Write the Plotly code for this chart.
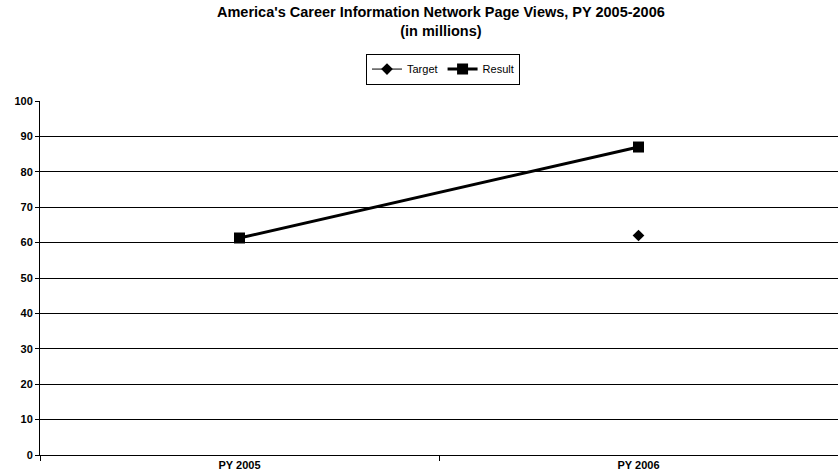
import plotly.graph_objects as go

categories = ["PY 2005", "PY 2006"]
target = [None, 62]
result = [61.3, 87.0]
y_ticks = [0, 10, 20, 30, 40, 50, 60, 70, 80, 90, 100]

fig = go.Figure()
fig.add_trace(go.Scatter(
    x=categories, y=target, name="Target", mode="lines+markers",
    line=dict(color="black", width=1),
    marker=dict(symbol="diamond", size=9, color="black"),
))
fig.add_trace(go.Scatter(
    x=categories, y=result, name="Result", mode="lines+markers",
    line=dict(color="black", width=3),
    marker=dict(symbol="square", size=11, color="black"),
))

fig.add_annotation(
    text="America's Career Information Network Page Views, PY 2005-2006<br>(in millions)",
    xref="paper", yref="paper", x=0.502, y=1.28, xanchor="center", yanchor="top",
    showarrow=False, font=dict(size=14.5, weight="bold"),
)

fig.update_layout(
    width=838, height=475,
    margin=dict(l=40, r=0, t=101, b=20),
    paper_bgcolor="white", plot_bgcolor="white",
    font=dict(family="Liberation Sans, Arial, sans-serif", color="black"),
    showlegend=True,
    legend=dict(
        orientation="h", x=0.505, xanchor="center", y=1.134, yanchor="top",
        bordercolor="black", borderwidth=1, bgcolor="white",
        font=dict(size=11), itemwidth=30, tracegroupgap=0,
    ),
    xaxis=dict(
        type="category", categoryorder="array", categoryarray=categories,
        tickson="boundaries", ticks="outside", ticklen=5, tickcolor="black",
        showgrid=False, showline=True, linecolor="black", linewidth=1,
        tickfont=dict(size=11, weight="bold"), range=[-0.5, 1.5],
    ),
    yaxis=dict(
        range=[0, 100], tickvals=y_ticks, ticks="outside", ticklen=4, tickcolor="black",
        showgrid=True, gridcolor="black", gridwidth=1,
        showline=True, linecolor="black", linewidth=1, zeroline=False,
        tickfont=dict(size=11, weight="bold"),
    ),
)
fig.write_html("out.html")
